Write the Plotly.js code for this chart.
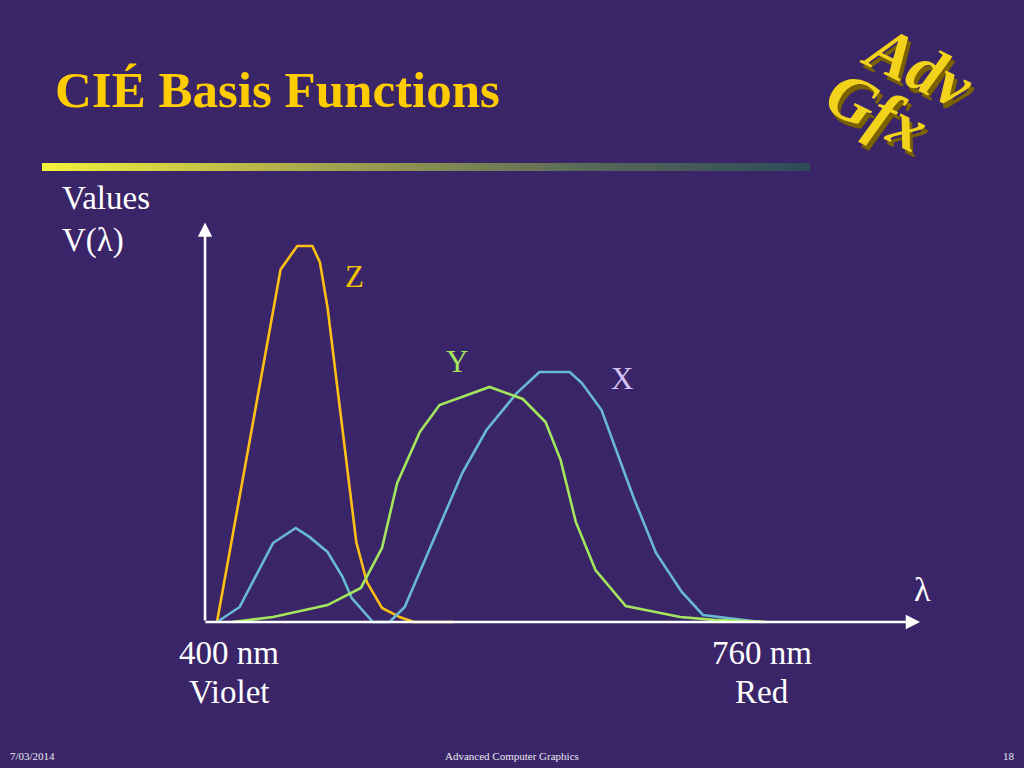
<!DOCTYPE html>
<html><head><meta charset="utf-8">
<script src="https://cdn.plot.ly/plotly-3.0.1.min.js"></script>
<style>html,body{margin:0;padding:0;background:#3b2569;}#chart{width:1024px;height:768px;}</style>
</head><body><div id="chart"></div>
<script>
// Wavelength (nm) and relative values
const zWave = [400, 442, 453, 463, 468, 473, 492, 499, 509, 521, 530, 556];
const zVal  = [0, 1.50, 1.60, 1.60, 1.53, 1.34, 0.34, 0.17, 0.06, 0.02, 0, 0];

const xWave = [400, 415, 437, 452, 461, 473, 483, 489, 503, 514, 524, 562, 578, 598, 613, 633, 641, 654, 675, 690, 707, 721, 759];
const xVal  = [0, 0.064, 0.336, 0.40, 0.362, 0.298, 0.191, 0.102, 0, 0, 0.064, 0.634, 0.817, 0.974, 1.064, 1.064, 1.017, 0.902, 0.532, 0.294, 0.128, 0.030, 0];

const yWave = [410, 437, 473, 495, 509, 519, 534, 547, 580, 602, 617, 627, 637, 650, 670, 706, 728, 763];
const yVal  = [0, 0.021, 0.072, 0.145, 0.315, 0.591, 0.809, 0.923, 1.0, 0.949, 0.851, 0.689, 0.426, 0.221, 0.068, 0.021, 0.009, 0];

const seriesNames = ['Z', 'Y', 'X'];
const titleText = 'CIÉ Basis Functions';
const yLabel = ['Values', 'V(λ)'];
const xLabels = [['400 nm', 'Violet'], ['760 nm', 'Red']];
const footer = ['7/03/2014', 'Advanced Computer Graphics', '18'];

const W = 1024, H = 768;
const M = {l: 180, r: 84, t: 200, b: 130};
const pw = W - M.l - M.r, ph = H - M.t - M.b;
const px = x => (x - M.l) / pw;
const py = y => (H - M.b - y) / ph;
const serif = 'Liberation Serif, Times New Roman, serif';

const traces = [
  {x: zWave, y: zVal, mode: 'lines', line: {color: '#fcc013', width: 2.6}, name: seriesNames[0]},
  {x: xWave, y: xVal, mode: 'lines', line: {color: '#69b9d2', width: 2.6}, name: seriesNames[2]},
  {x: yWave, y: yVal, mode: 'lines', line: {color: '#a3e65e', width: 2.6}, name: seriesNames[1]}
];

const txt = (x, y, text, size, color, extra) => Object.assign({
  xref: 'paper', yref: 'paper', x: px(x), y: py(y), text: text, showarrow: false,
  font: {family: serif, size: size, color: color}, xanchor: 'center', yanchor: 'middle'
}, extra || {});

const ann = [
  // axes arrows
  {xref: 'x', yref: 'y', axref: 'x', ayref: 'y', x: 392.1, y: 1.70, ax: 392.1, ay: 0, text: '',
   showarrow: true, arrowhead: 2, arrowsize: 1.1, arrowwidth: 2.6, arrowcolor: '#ffffff', standoff: 0},
  {xref: 'x', yref: 'y', axref: 'x', ayref: 'y', x: 864.4, y: 0, ax: 391.4, ay: 0, text: '',
   showarrow: true, arrowhead: 2, arrowsize: 1.1, arrowwidth: 2.6, arrowcolor: '#ffffff', standoff: 0},
  txt(53, 90, '<b>' + titleText + '</b>', 51, '#ffcc00', {xanchor: 'left'}),
  txt(60, 198, yLabel[0], 33, '#ffffff', {xanchor: 'left'}),
  txt(60, 240, yLabel[1], 33, '#ffffff', {xanchor: 'left'}),
  txt(922, 589, 'λ', 34, '#ffffff'),
  txt(229, 653, xLabels[0][0], 33, '#ffffff'),
  txt(229, 692, xLabels[0][1], 33, '#ffffff'),
  txt(762, 653, xLabels[1][0], 33, '#ffffff'),
  txt(762, 692, xLabels[1][1], 33, '#ffffff'),
  txt(354, 276, seriesNames[0], 31, '#f5c400'),
  txt(457, 361, seriesNames[1], 31, '#a3e65e'),
  txt(622, 378, seriesNames[2], 31, '#d4c2f4'),
  txt(8, 756, footer[0], 11, '#e8e8f0', {xanchor: 'left'}),
  txt(512, 756, footer[1], 11, '#e8e8f0'),
  txt(1009, 756, footer[2], 11, '#e8e8f0'),
  // logo: shadow then face
  txt(921, 71, '<b><i>Adv</i></b>', 66, '#7a6200', {textangle: 26}),
  txt(918, 66, '<b><i>Adv</i></b>', 66, '#f2d21a', {textangle: 26}),
  txt(880, 116, '<b><i>Gfx</i></b>', 66, '#7a6200', {textangle: 26}),
  txt(877, 111, '<b><i>Gfx</i></b>', 66, '#f2d21a', {textangle: 26})
];

const gradSvg = '<svg xmlns="http://www.w3.org/2000/svg" width="768" height="8"><defs><linearGradient id="g" x1="0" x2="1" y1="0" y2="0"><stop offset="0" stop-color="#f4f23a"/><stop offset="0.35" stop-color="#a9a84e"/><stop offset="0.7" stop-color="#5a6a58"/><stop offset="1" stop-color="#2e4a5a"/></linearGradient></defs><rect width="768" height="8" fill="url(#g)"/></svg>';

const layout = {
  width: W, height: H,
  margin: M,
  paper_bgcolor: '#3b2569', plot_bgcolor: '#3b2569',
  showlegend: false,
  xaxis: {range: [375.56, 877.58], visible: false, fixedrange: true},
  yaxis: {range: [-0.0681, 1.7957], visible: false, fixedrange: true},
  annotations: ann,
  images: [{
    source: 'data:image/svg+xml;charset=utf-8,' + encodeURIComponent(gradSvg),
    xref: 'paper', yref: 'paper', x: px(42), y: py(163), sizex: 768 / pw, sizey: 8 / ph,
    xanchor: 'left', yanchor: 'top', sizing: 'stretch', layer: 'below'
  }]
};

Plotly.newPlot('chart', traces, layout, {displayModeBar: false, staticPlot: true});
</script></body></html>
